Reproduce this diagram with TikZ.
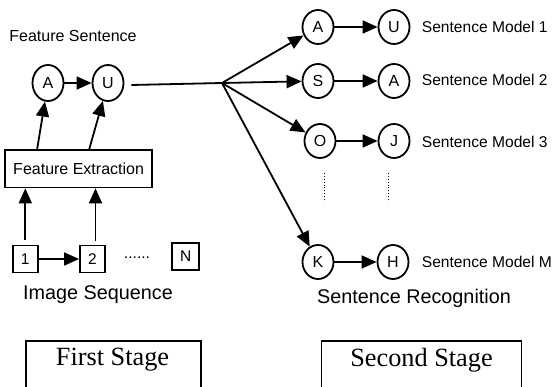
\documentclass[tikz,border=0pt]{standalone}
\usepackage{fontspec}
\setmainfont{Liberation Sans}
\newfontfamily\timesfont{Liberation Serif}
\usetikzlibrary{arrows.meta,shapes.geometric}
\begin{document}
\begin{tikzpicture}[x=1pt,y=-1pt,line width=1.8pt,
  circ/.style={draw,ellipse,minimum width=31,minimum height=36,inner sep=0pt,font=\fontsize{16}{16}\selectfont},
  rcirc/.style={circ,minimum width=31,minimum height=34},
  sqbox/.style={draw,minimum width=25,minimum height=27,inner sep=0pt,font=\fontsize{15.5}{15.5}\selectfont},
  arr/.style={-{Triangle[length=15pt,width=13pt]}},
  lbl/.style={font=\fontsize{15.6}{16}\selectfont,inner sep=0pt},
  biglbl/.style={font=\fontsize{19.8}{20}\selectfont,inner sep=0pt},
  stagebox/.style={draw,line width=1.8pt,minimum width=175,minimum height=80,anchor=north,inner sep=0pt},
  stagetxt/.style={font=\timesfont\fontsize{26.3}{27}\selectfont,inner sep=0pt},
  dotline/.style={line width=0.9pt,dash pattern=on 0.9pt off 2pt}]
\useasboundingbox[fill=white] (0,0) rectangle (554,387);
\begin{scope}
\clip (0,0) rectangle (554,387);
% left part
\node[lbl,font=\fontsize{16}{16}\selectfont] (fstitle) at (73,36) {Feature Sentence};
\node[circ] (a1) at (48,83) {A};
\node[circ] (u1) at (108,83) {U};
\draw[arr] (a1) -- (u1);
\node[draw,line width=1.8pt,minimum width=147,minimum height=37.5,inner sep=0pt,font=\fontsize{16}{16}\selectfont] (fe) at (78.6,168.7) {Feature Extraction};
\coordinate (fa) at (37,150);
\coordinate (fu) at (89,150);
\draw[arr] (fa) -- (a1);
\draw[arr] (fu) -- (u1);
\node[sqbox] (s1) at (25.3,259) {1};
\node[sqbox] (s2) at (92.5,259) {2};
\node[sqbox,minimum width=27] (sn) at (185.7,256.5) {N};
\node[lbl] (dots) at (137,258) {......};
\draw[arr] (s1) -- (s2);
\coordinate (s1a) at ([yshift=5pt]s1.north);
\coordinate (s2a) at ([xshift=3pt,yshift=3.5pt]s2.north);
\draw[arr] (s1a) -- (fe.south -| s1a);
\draw[arr] (s2a) -- (fe.south -| s2a);
\node[biglbl] (imseq) at (98,295) {Image Sequence};
% hub
\coordinate (hub) at (222,83);
\coordinate (ustart) at ([xshift=7pt,yshift=-2pt]u1.east);
\draw (ustart) -- (hub);
% right part
\node[rcirc] (ra) at (318,27) {A};
\node[rcirc] (ru) at (394,27) {U};
\node[rcirc] (rs) at (318,81) {S};
\node[rcirc] (ra2) at (394,81) {A};
\node[rcirc] (ro) at (320,141) {O};
\node[rcirc] (rj) at (394,141) {J};
\node[rcirc] (rk) at (318,262) {K};
\node[rcirc] (rh) at (393,262) {H};
\draw[arr] (ra) -- (ru);
\draw[arr] (rs) -- (ra2);
\draw[arr] (ro) -- (rj);
\draw[arr] (rk) -- (rh);
\draw[arr] (hub) -- (ra);
\draw[arr] (hub) -- (rs);
\draw[arr] (hub) -- (ro);
\draw[arr] (hub) -- (rk);
\coordinate (d1t) at (324,173);
\coordinate (d1b) at (324,202);
\coordinate (d2t) at (388,173);
\coordinate (d2b) at (388,202);
\draw[dotline] (d1t) -- (d1b);
\draw[dotline] (d2t) -- (d2b);
\node[lbl,anchor=west] (m1) at (421,27) {Sentence Model 1};
\node[lbl,anchor=west] (m2) at (421,80) {Sentence Model 2};
\node[lbl,anchor=west] (m3) at (421,141.5) {Sentence Model 3};
\node[lbl,anchor=west] (mm) at (421,261.5) {Sentence Model M};
\node[biglbl] (srec) at (414,298) {Sentence Recognition};
% stages
\node[stagebox] (fsbox) at (113.4,340) {};
\node[stagetxt] (fstxt) at (112.5,360) {First Stage};
\node[stagebox,minimum width=200] (ssbox) at (421.5,340) {};
\node[stagetxt] (sstxt) at (421.5,360) {Second Stage};
\end{scope}
\end{tikzpicture}
\end{document}
